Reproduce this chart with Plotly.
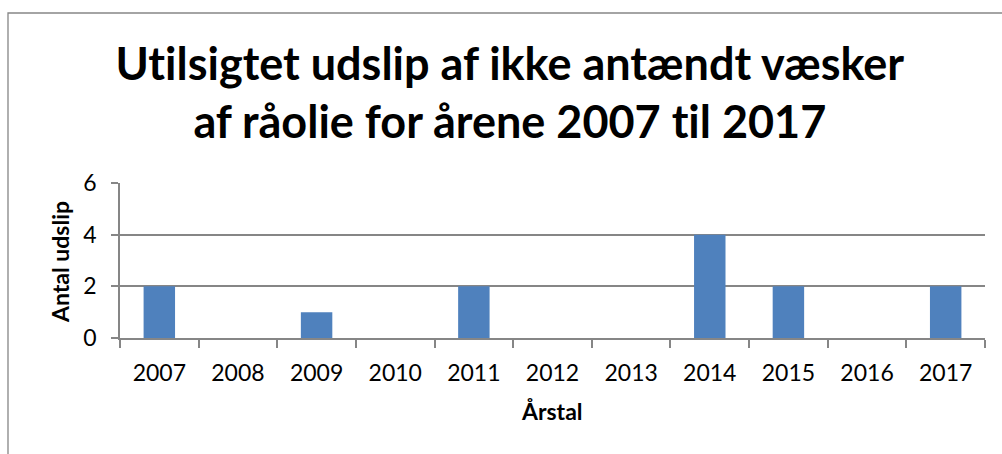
import plotly.graph_objects as go

years = ["2007", "2008", "2009", "2010", "2011", "2012", "2013", "2014", "2015", "2016", "2017"]
counts = [2, 0, 1, 0, 2, 0, 0, 4, 2, 0, 2]
title_lines = ["Utilsigtet udslip af ikke antændt væsker", "af råolie for årene 2007 til 2017"]
x_title = "Årstal"
y_title = "Antal udslip"

W, H = 1002, 454
L, R, T, B = 120, 985, 183, 338
pw, ph = R - L, B - T

def px_to_paper_x(px):
    return (px - L) / pw

def py_to_paper_y(py):
    return (B - py) / ph

FONT = "Lato"
GRID = "#868686"

fig = go.Figure(go.Bar(x=years, y=counts, marker=dict(color="#4F81BD", line=dict(width=0)), width=0.4))

fig.update_layout(
    width=W, height=H,
    margin=dict(l=L, r=W - R, t=T, b=H - B),
    paper_bgcolor="white", plot_bgcolor="white",
    showlegend=False,
    font=dict(family=FONT, color="black"),
    bargap=0.6,
)
fig.update_xaxes(
    type="category", range=[-0.5, 10.5], tickson="boundaries",
    ticks="outside", ticklen=8, tickcolor=GRID, tickwidth=1.5,
    showline=True, linecolor=GRID, linewidth=1.5, showgrid=False,
    tickfont=dict(size=23, family=FONT), ticklabelstandoff=14,
)
fig.update_yaxes(
    range=[0, 6], dtick=2, ticks="outside", ticklen=7, tickcolor=GRID, tickwidth=1.5,
    showline=True, linecolor=GRID, linewidth=1.5,
    showgrid=True, gridcolor=GRID, gridwidth=1.5, zeroline=False,
    tickfont=dict(size=23, family=FONT), ticklabelstandoff=10,
)

fig.add_annotation(text="<b>" + title_lines[0] + "</b>", xref="paper", yref="paper",
                   x=px_to_paper_x(510), y=py_to_paper_y(63), xanchor="center", yanchor="middle",
                   showarrow=False, font=dict(size=45, family=FONT))
fig.add_annotation(text="<b>" + title_lines[1] + "</b>", xref="paper", yref="paper",
                   x=px_to_paper_x(510), y=py_to_paper_y(121), xanchor="center", yanchor="middle",
                   showarrow=False, font=dict(size=45, family=FONT))
fig.add_annotation(text="<b>" + x_title + "</b>", xref="paper", yref="paper",
                   x=px_to_paper_x(552), y=py_to_paper_y(411), xanchor="center", yanchor="middle",
                   showarrow=False, font=dict(size=23, family=FONT))
fig.add_annotation(text="<b>" + y_title + "</b>", xref="paper", yref="paper",
                   x=px_to_paper_x(60), y=py_to_paper_y(262), xanchor="center", yanchor="middle",
                   textangle=-90, showarrow=False, font=dict(size=23, family=FONT))

fig.add_shape(type="rect", xref="paper", yref="paper",
              x0=px_to_paper_x(8), x1=px_to_paper_x(1010),
              y0=py_to_paper_y(470), y1=py_to_paper_y(13),
              line=dict(color=GRID, width=1.3), fillcolor="rgba(0,0,0,0)", layer="below")

post = (
    "document.body.style.margin='0';document.body.style.overflow='hidden';"
    "var s=document.createElement('style');"
    "s.textContent='svg text{font-variant-ligatures:none !important;font-feature-settings:\"liga\" 0,\"clig\" 0 !important;}';"
    "document.head.appendChild(s);"
)
fig.write_html("out.html", config={"displayModeBar": False}, post_script=post)
